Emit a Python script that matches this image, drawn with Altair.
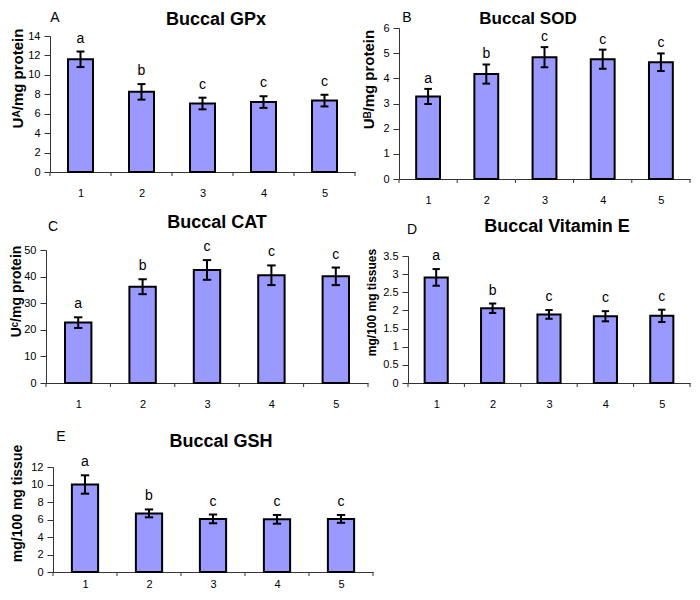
import altair as alt
import pandas as pd

FONT = "Liberation Sans"
BAR_FILL = "#9999FF"
AXIS_COLOR = "#333333"

# ---- data ----
groups = [1, 2, 3, 4, 5]
sig_letters = ["a", "b", "c", "c", "c"]

gpx_mean = [11.6, 8.25, 7.05, 7.2, 7.35]
gpx_err = [0.8, 0.8, 0.6, 0.6, 0.6]

sod_mean = [3.28, 4.17, 4.84, 4.76, 4.64]
sod_err = [0.30, 0.38, 0.40, 0.38, 0.35]

cat_mean = [22.7, 36.2, 42.5, 40.5, 40.1]
cat_err = [2.0, 2.8, 3.7, 3.7, 3.3]

vite_mean = [2.91, 2.06, 1.89, 1.84, 1.85]
vite_err = [0.23, 0.13, 0.12, 0.14, 0.17]

gsh_mean = [10.0, 6.7, 6.07, 6.02, 6.07]
gsh_err = [1.05, 0.45, 0.50, 0.50, 0.45]

gpx_ticks = [0, 2, 4, 6, 8, 10, 12, 14]
sod_ticks = [0, 1, 2, 3, 4, 5, 6]
cat_ticks = [0, 10, 20, 30, 40, 50]
vite_ticks = [0, 0.5, 1, 1.5, 2, 2.5, 3, 3.5]
gsh_ticks = [0, 2, 4, 6, 8, 10, 12]
x_bounds = [0.5, 1.5, 2.5, 3.5, 4.5, 5.5]  # category boundaries (x tick marks)


def panel(mean, err, ticks, ytitle, letter, title, w, h, xoff, yoff,
          letter_pos, title_pos, ytx, yty, ytsize, xpad, anchor=False,
          sig_dy=-13, title_size=18):
    df = pd.DataFrame({"g": groups, "m": mean, "e": err, "lab": sig_letters})
    base = alt.Chart(df).transform_calculate(
        lo="datum.m - datum.e",
        hi="datum.m + datum.e",
        x0="datum.g - 0.205",
        x1="datum.g + 0.205",
        c0="datum.g - 0.065",
        c1="datum.g + 0.065",
    )
    xs = alt.Scale(domain=[0.5, 5.5], range=[xoff, xoff + w], nice=False, zero=False)
    ys = alt.Scale(domain=[ticks[0], ticks[-1]], range=[yoff + h, yoff], nice=False)
    xaxis = alt.Axis(
        values=groups,
        tickCount=len(groups),
        format="d",
        labelFlush=False,
        labelOverlap=False,
        tickSize=0,
        labelPadding=xpad + 4,
        labelFontSize=11,
        labelColor="black",
        domainColor=AXIS_COLOR,
        grid=False,
    )
    yaxis = alt.Axis(
        values=ticks,
        tickCount=len(ticks),
        labelExpr="'' + datum.value",
        labelOverlap=False,
        labelFlush=False,
        tickSize=6,
        labelPadding=4,
        labelFontSize=11,
        labelColor="black",
        domainColor=AXIS_COLOR,
        tickColor=AXIS_COLOR,
        grid=False,
        offset=-xoff,
        titleX=ytx,
        titleY=yty,
        titleAngle=270,
        titleAlign="center",
        titleBaseline="middle",
        titleFontSize=ytsize,
        titleFontWeight="bold",
        titleColor="black",
    )
    bars = base.mark_rect(fill=BAR_FILL, stroke="black", strokeWidth=2).encode(
        x=alt.X("x0:Q", scale=xs, axis=xaxis, title=None),
        x2="x1:Q",
        y=alt.Y("m:Q", scale=ys, axis=yaxis, title=ytitle),
        y2=alt.datum(0),
    )
    xticks = alt.Chart(pd.DataFrame({"b": x_bounds})).mark_rule(
        color=AXIS_COLOR, strokeWidth=1
    ).encode(
        x=alt.X("b:Q", scale=xs, title=None),
        y=alt.value(yoff + h),
        y2=alt.value(yoff + h + 4),
    )
    stems = base.mark_rule(color="black", strokeWidth=2).encode(
        x=alt.X("g:Q", scale=xs, title=None),
        y=alt.Y("lo:Q", scale=ys, title=ytitle),
        y2="hi:Q",
    )
    cap_hi = base.mark_rule(color="black", strokeWidth=2).encode(
        x=alt.X("c0:Q", scale=xs, title=None),
        x2="c1:Q",
        y=alt.Y("hi:Q", scale=ys, title=ytitle),
    )
    cap_lo = base.mark_rule(color="black", strokeWidth=2).encode(
        x=alt.X("c0:Q", scale=xs, title=None),
        x2="c1:Q",
        y=alt.Y("lo:Q", scale=ys, title=ytitle),
    )
    sig = base.mark_text(dy=sig_dy, fontSize=14, color="black").encode(
        x=alt.X("g:Q", scale=xs, title=None),
        y=alt.Y("hi:Q", scale=ys, title=ytitle),
        text="lab:N",
    )
    letter_mark = alt.Chart(pd.DataFrame({"t": [letter]})).mark_text(
        fontSize=14, color="black", align="center", baseline="middle"
    ).encode(x=alt.value(letter_pos[0]), y=alt.value(letter_pos[1]), text="t:N")
    title_mark = alt.Chart(pd.DataFrame({"t": [title]})).mark_text(
        fontSize=title_size, fontWeight="bold", color="black", align="center", baseline="middle"
    ).encode(x=alt.value(title_pos[0]), y=alt.value(title_pos[1]), text="t:N")
    layers = [bars, xticks, stems, cap_hi, cap_lo, sig, letter_mark, title_mark]
    if anchor:
        # invisible corner mark that fixes the page origin of the whole figure
        layers.append(
            alt.Chart(pd.DataFrame({"t": [0]})).mark_rule(opacity=0, strokeWidth=1).encode(
                x=alt.value(-37.5), x2=alt.value(-36.5),
                y=alt.value(-19.5), y2=alt.value(-18.5),
            )
        )
    return alt.layer(*layers).properties(width=xoff + w, height=yoff + h)


pA = panel(gpx_mean, gpx_err, gpx_ticks, "Uᴬ/mg protein", "A", "Buccal GPx",
           w=305, h=136, xoff=4, yoff=8, letter_pos=(9, -10), title_pos=(170, -8),
           ytx=-33, yty=50, ytsize=15, xpad=11, anchor=True)
pB = panel(sod_mean, sod_err, sod_ticks, "Uᴮ/mg protein", "B", "Buccal SOD",
           w=291, h=151, xoff=0, yoff=0, letter_pos=(8, -10), title_pos=(129, -9),
           ytx=-31, yty=51, ytsize=15, xpad=11, sig_dy=-10, title_size=17)
pC = panel(cat_mean, cat_err, cat_ticks, "Uᶜ/mg protein", "C", "Buccal CAT",
           w=322, h=133, xoff=0, yoff=15, letter_pos=(7, -8), title_pos=(171, -12),
           ytx=-30, yty=56, ytsize=14, xpad=11)
pD = panel(vite_mean, vite_err, vite_ticks, "mg/100 mg tissues", "D", "Buccal Vitamin E",
           w=282, h=127, xoff=9, yoff=21, letter_pos=(13, -5), title_pos=(158, -8),
           ytx=-37, yty=67, ytsize=12, xpad=11)
pE = panel(gsh_mean, gsh_err, gsh_ticks, "mg/100 mg tissue", "E", "Buccal GSH",
           w=320, h=105, xoff=7, yoff=28, letter_pos=(15, -2), title_pos=(175, 3),
           ytx=-36, yty=64, ytsize=14, xpad=2)

chart = alt.concat(
    pA, pB, pC, pD, pE,
    columns=2,
    spacing=alt.RowColnumber(row=56, column=26),
    bounds="flush",
    align="each",
).properties(padding=0).configure(font=FONT).configure_view(
    strokeWidth=0
).configure_axis(labelOverlap=False)

chart.save("out.html", embed_options={"renderer": "svg", "actions": False})
